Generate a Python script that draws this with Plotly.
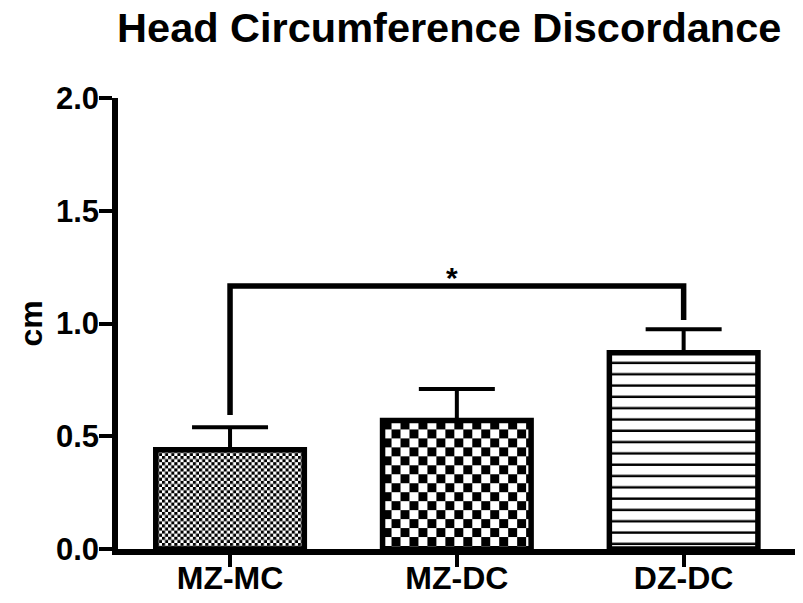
import base64
import plotly.graph_objects as go

# ---- data ----
groups = ["MZ-MC", "MZ-DC", "DZ-DC"]
means = [0.44, 0.57, 0.87]
sems = [0.10, 0.14, 0.105]
y_ticks = [0.0, 0.5, 1.0, 1.5, 2.0]
y_tick_labels = ["0.0", "0.5", "1.0", "1.5", "2.0"]
sig_pair = [0, 2]            # indices of compared groups
sig_bracket_y = 1.166         # height of the significance bracket
sig_leg_bottoms = [0.594, 1.016]
sig_label = "*"
sig_label_y = 1.205
title_text = "Head Circumference Discordance"
y_title = "cm"

# ---- layout geometry (page body adds an 8px offset) ----
W, H = 795, 587
ML, MR, MT, MB = 110, 8, 90, 46
x_range = [-0.494, 2.491]
y_range = [0, 2]
bar_w = 0.655
px_x = (W - ML - MR) / (x_range[1] - x_range[0])
px_y = (H - MT - MB) / (y_range[1] - y_range[0])

FONT = "Liberation Sans, Arial, Helvetica, sans-serif"


def texture_uri(wpx, hpx, kind, cell):
    if kind == "checker":
        tile = (
            "<pattern id='p' width='{c2}' height='{c2}' patternUnits='userSpaceOnUse'>"
            "<rect width='{c2}' height='{c2}' fill='white'/>"
            "<rect width='{c}' height='{c}' fill='black'/>"
            "<rect x='{c}' y='{c}' width='{c}' height='{c}' fill='black'/>"
            "</pattern>"
        ).format(c=cell, c2=2 * cell)
    else:  # horizontal stripes
        tile = (
            "<pattern id='p' width='{c}' height='{c}' patternUnits='userSpaceOnUse'>"
            "<rect width='{c}' height='{c}' fill='white'/>"
            "<rect y='{o}' width='{c}' height='2.4' fill='black'/>"
            "</pattern>"
        ).format(c=cell, o=cell - 2.4)
    s = (
        "<svg xmlns='http://www.w3.org/2000/svg' width='{w}' height='{h}' "
        "viewBox='0 0 {w} {h}' preserveAspectRatio='none'>"
        "<defs>{tile}</defs><rect width='{w}' height='{h}' fill='url(#p)'/></svg>"
    ).format(w=wpx, h=hpx, tile=tile)
    return "data:image/svg+xml;base64," + base64.b64encode(s.encode()).decode()


fig = go.Figure()

fig.add_trace(go.Bar(
    x=list(range(len(groups))),
    y=means,
    width=bar_w,
    marker=dict(color="rgba(0,0,0,0)", line=dict(color="black", width=5.5)),
    error_y=dict(type="data", array=sems, arrayminus=[0] * len(sems),
                 symmetric=False, color="black", thickness=4, width=38),
    showlegend=False,
    hoverinfo="skip",
))

# fill textures for the bars (placed via data coords)
textures = [("checker", 3.1), ("checker", 9.0), ("stripes", 11.3)]
images = []
for i, (kind, cell) in enumerate(textures):
    wpx = int(round(bar_w * px_x))
    hpx = int(round(means[i] * px_y))
    images.append(dict(
        source=texture_uri(wpx, hpx, kind, cell),
        xref="x", yref="y", x=i - bar_w / 2, y=means[i],
        sizex=bar_w, sizey=means[i], xanchor="left", yanchor="top",
        sizing="stretch", layer="below",
    ))

# significance bracket
fig.add_trace(go.Scatter(
    x=[sig_pair[0], sig_pair[0], sig_pair[1], sig_pair[1]],
    y=[sig_leg_bottoms[0], sig_bracket_y, sig_bracket_y, sig_leg_bottoms[1]],
    mode="lines", line=dict(color="black", width=5.5),
    showlegend=False, hoverinfo="skip",
))

fig.add_annotation(
    x=(sig_pair[0] + sig_pair[1]) / 2 - 0.02, y=sig_label_y, text=sig_label,
    showarrow=False, xref="x", yref="y",
    font=dict(family=FONT, size=30, color="black", weight="bold"),
)

# y-axis title
fig.add_annotation(
    x=0, y=0.5, xref="paper", yref="paper", text=y_title, textangle=-90,
    showarrow=False, xanchor="center", yanchor="middle", xshift=-88,
    font=dict(family=FONT, size=32, color="black", weight="bold"),
)

fig.update_layout(
    width=W, height=H,
    margin=dict(l=ML, r=MR, t=MT, b=MB, autoexpand=False),
    paper_bgcolor="white", plot_bgcolor="white",
    images=images,
    title=dict(text=title_text, x=0.555, xanchor="center", y=0.967, yanchor="middle",
               font=dict(family=FONT, size=41.5, color="black", weight="bold")),
    xaxis=dict(
        range=x_range, tickmode="array", tickvals=list(range(len(groups))),
        ticktext=groups, showline=True, linecolor="black", linewidth=5.5,
        ticks="outside", ticklen=12, tickwidth=4, tickcolor="black",
        ticklabelstandoff=-16,
        showgrid=False, zeroline=False, automargin=False,
        tickfont=dict(family=FONT, size=32, color="black", weight="bold"),
    ),
    yaxis=dict(
        range=y_range, tickmode="array", tickvals=y_ticks, ticktext=y_tick_labels,
        showline=True, linecolor="black", linewidth=5.5,
        ticks="outside", ticklen=13, tickwidth=4, tickcolor="black",
        ticklabelstandoff=-6,
        showgrid=False, zeroline=False, automargin=False,
        tickfont=dict(family=FONT, size=31, color="black", weight="bold"),
    ),
)

fig.write_html("out.html")
